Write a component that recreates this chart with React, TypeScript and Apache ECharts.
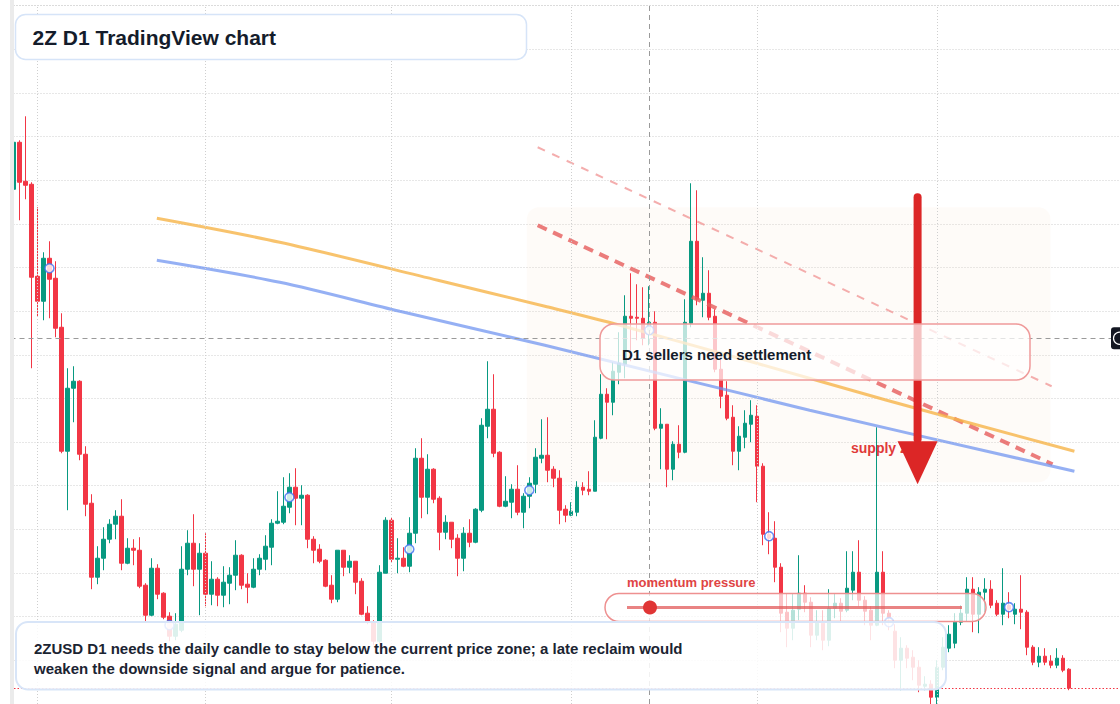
import React, { useEffect, useRef } from 'react';
import * as echarts from 'echarts';

// ---------- data ----------
const SLOT_COUNT = 185; // daily slots shown on the time axis (incl. empty right margin)
const dates: string[] = Array.from({ length: SLOT_COUNT }, (_, k) =>
  new Date(Date.UTC(2026, 0, 28 + k)).toISOString().slice(0, 10)
);

// daily candles: [open, close, low, high]
const candles: number[][] = [
  [0.1388, 0.1435, 0.1387, 0.1436], [0.1435, 0.1395, 0.1357, 0.1437], [0.1396, 0.1392, 0.1378, 0.1461],
  [0.1393, 0.1300, 0.1209, 0.1395], [0.1301, 0.1276, 0.1261, 0.1370], [0.1276, 0.1319, 0.1257, 0.1325],
  [0.1319, 0.1298, 0.1259, 0.1336], [0.1299, 0.1249, 0.1240, 0.1316], [0.1250, 0.1126, 0.1124, 0.1264],
  [0.1126, 0.1189, 0.1067, 0.1209], [0.1189, 0.1196, 0.1155, 0.1211], [0.1196, 0.1123, 0.1117, 0.1197],
  [0.1123, 0.1073, 0.1061, 0.1131], [0.1074, 0.1000, 0.0988, 0.1083], [0.1000, 0.1019, 0.0993, 0.1031],
  [0.1019, 0.1038, 0.1007, 0.1050], [0.1038, 0.1053, 0.1034, 0.1058], [0.1053, 0.1061, 0.1038, 0.1067],
  [0.1061, 0.1014, 0.1007, 0.1078], [0.1014, 0.1029, 0.1013, 0.1039], [0.1029, 0.1027, 0.1012, 0.1038],
  [0.1027, 0.0991, 0.0989, 0.1040], [0.0992, 0.0962, 0.0956, 0.0994], [0.0962, 0.1009, 0.0961, 0.1019],
  [0.1009, 0.0983, 0.0978, 0.1013], [0.0984, 0.0960, 0.0958, 0.0985], [0.0961, 0.0941, 0.0936, 0.0965],
  [0.0941, 0.0953, 0.0937, 0.0964], [0.0947, 0.1008, 0.0945, 0.1031], [0.1008, 0.1034, 0.1002, 0.1047],
  [0.1034, 0.1008, 0.0991, 0.1063], [0.1008, 0.1024, 0.0962, 0.1034], [0.1024, 0.0983, 0.0971, 0.1044],
  [0.0983, 0.0998, 0.0972, 0.1016], [0.0998, 0.0982, 0.0971, 0.1000], [0.0982, 0.0995, 0.0970, 0.1011],
  [0.0994, 0.1002, 0.0973, 0.1010], [0.1002, 0.1022, 0.0987, 0.1037], [0.1022, 0.0992, 0.0988, 0.1023],
  [0.0993, 0.0990, 0.0974, 0.1004], [0.0990, 0.1008, 0.0989, 0.1019], [0.1008, 0.1019, 0.1002, 0.1023],
  [0.1018, 0.1031, 0.1007, 0.1042], [0.1030, 0.1054, 0.1012, 0.1058], [0.1054, 0.1056, 0.1053, 0.1086],
  [0.1055, 0.1071, 0.1053, 0.1100], [0.1070, 0.1090, 0.1064, 0.1104], [0.1090, 0.1079, 0.1052, 0.1109],
  [0.1079, 0.1082, 0.1052, 0.1092], [0.1082, 0.1038, 0.1029, 0.1083], [0.1038, 0.1027, 0.1014, 0.1041],
  [0.1028, 0.1016, 0.1014, 0.1033], [0.1017, 0.0991, 0.0990, 0.1018], [0.0992, 0.0978, 0.0974, 0.1002],
  [0.0978, 0.1027, 0.0975, 0.1027], [0.1027, 0.1010, 0.1001, 0.1027], [0.1010, 0.1016, 0.1004, 0.1022],
  [0.1016, 0.0995, 0.0983, 0.1016], [0.0996, 0.0963, 0.0962, 0.0999], [0.0964, 0.0955, 0.0953, 0.0971],
  [0.0955, 0.0936, 0.0932, 0.0957], [0.0936, 0.1005, 0.0934, 0.1012], [0.1004, 0.1057, 0.1004, 0.1060],
  [0.1057, 0.1018, 0.1015, 0.1060], [0.1018, 0.1019, 0.1004, 0.1039], [0.1019, 0.1011, 0.1010, 0.1030],
  [0.1011, 0.1044, 0.1005, 0.1060], [0.1044, 0.1119, 0.1034, 0.1129], [0.1119, 0.1080, 0.1059, 0.1139],
  [0.1080, 0.1108, 0.1063, 0.1123], [0.1108, 0.1078, 0.1074, 0.1109], [0.1079, 0.1045, 0.1027, 0.1081],
  [0.1045, 0.1055, 0.1038, 0.1062], [0.1055, 0.1038, 0.1029, 0.1055], [0.1039, 0.1019, 0.1001, 0.1043],
  [0.1019, 0.1044, 0.1006, 0.1050], [0.1044, 0.1035, 0.1030, 0.1058], [0.1035, 0.1068, 0.1034, 0.1069],
  [0.1067, 0.1152, 0.1065, 0.1159], [0.1151, 0.1168, 0.1139, 0.1216], [0.1168, 0.1124, 0.1120, 0.1203],
  [0.1125, 0.1071, 0.1070, 0.1126], [0.1071, 0.1076, 0.1070, 0.1101], [0.1075, 0.1088, 0.1059, 0.1093],
  [0.1088, 0.1065, 0.1062, 0.1112], [0.1065, 0.1081, 0.1049, 0.1084], [0.1081, 0.1094, 0.1069, 0.1100],
  [0.1093, 0.1120, 0.1084, 0.1129], [0.1119, 0.1122, 0.1114, 0.1158], [0.1122, 0.1107, 0.1095, 0.1160],
  [0.1108, 0.1099, 0.1090, 0.1111], [0.1099, 0.1067, 0.1053, 0.1107], [0.1068, 0.1062, 0.1055, 0.1072],
  [0.1062, 0.1066, 0.1061, 0.1075], [0.1065, 0.1090, 0.1061, 0.1096], [0.1090, 0.1087, 0.1082, 0.1095],
  [0.1088, 0.1086, 0.1082, 0.1106], [0.1086, 0.1140, 0.1086, 0.1157], [0.1139, 0.1183, 0.1138, 0.1203],
  [0.1183, 0.1175, 0.1138, 0.1189], [0.1175, 0.1206, 0.1162, 0.1215], [0.1205, 0.1214, 0.1193, 0.1245],
  [0.1213, 0.1261, 0.1199, 0.1282], [0.1261, 0.1259, 0.1216, 0.1304], [0.1260, 0.1259, 0.1237, 0.1293],
  [0.1259, 0.1239, 0.1232, 0.1290], [0.1247, 0.1255, 0.1232, 0.1291], [0.1255, 0.1149, 0.1147, 0.1266],
  [0.1149, 0.1153, 0.1108, 0.1169], [0.1153, 0.1108, 0.1090, 0.1153], [0.1108, 0.1133, 0.1097, 0.1136],
  [0.1133, 0.1125, 0.1119, 0.1152], [0.1125, 0.1255, 0.1124, 0.1278], [0.1254, 0.1336, 0.1250, 0.1394],
  [0.1336, 0.1278, 0.1272, 0.1387], [0.1277, 0.1284, 0.1260, 0.1320], [0.1284, 0.1260, 0.1257, 0.1307],
  [0.1261, 0.1208, 0.1205, 0.1268], [0.1208, 0.1181, 0.1169, 0.1218], [0.1182, 0.1159, 0.1157, 0.1196],
  [0.1160, 0.1126, 0.1112, 0.1172], [0.1126, 0.1141, 0.1107, 0.1151], [0.1140, 0.1154, 0.1129, 0.1167],
  [0.1153, 0.1162, 0.1135, 0.1177], [0.1161, 0.1111, 0.1075, 0.1172], [0.1111, 0.1043, 0.1032, 0.1114],
  [0.1043, 0.1039, 0.1023, 0.1065], [0.1039, 0.1010, 0.0995, 0.1056], [0.1010, 0.0964, 0.0945, 0.1014],
  [0.0965, 0.0949, 0.0930, 0.0984], [0.0949, 0.0967, 0.0937, 0.0984], [0.0968, 0.0984, 0.0957, 0.1022],
  [0.0984, 0.0975, 0.0965, 0.0992], [0.0975, 0.0942, 0.0930, 0.0980], [0.0942, 0.0954, 0.0937, 0.0967],
  [0.0954, 0.0937, 0.0927, 0.0967], [0.0937, 0.0969, 0.0931, 0.0988], [0.0969, 0.0974, 0.0959, 0.0984],
  [0.0974, 0.0966, 0.0955, 0.0979], [0.0967, 0.0989, 0.0965, 0.1026], [0.0987, 0.1005, 0.0977, 0.1026],
  [0.1005, 0.0977, 0.0971, 0.1037], [0.0977, 0.0966, 0.0952, 0.0981], [0.0967, 0.0952, 0.0937, 0.0971],
  [0.0952, 0.1005, 0.0951, 0.1150], [0.1005, 0.0964, 0.0952, 0.1026], [0.0964, 0.0960, 0.0947, 0.0967],
  [0.0946, 0.0917, 0.0909, 0.0953], [0.0917, 0.0929, 0.0887, 0.0940], [0.0929, 0.0919, 0.0909, 0.0932],
  [0.0920, 0.0910, 0.0897, 0.0927], [0.0910, 0.0892, 0.0885, 0.0917], [0.0891, 0.0893, 0.0887, 0.0901],
  [0.0893, 0.0880, 0.0873, 0.0897], [0.0880, 0.0910, 0.0873, 0.0917], [0.0910, 0.0930, 0.0907, 0.0940],
  [0.0929, 0.0943, 0.0925, 0.0952], [0.0934, 0.0955, 0.0929, 0.0964], [0.0955, 0.0964, 0.0952, 0.0972],
  [0.0964, 0.0988, 0.0956, 0.1000], [0.0988, 0.0963, 0.0945, 0.1000], [0.0963, 0.0985, 0.0944, 0.0990],
  [0.0985, 0.0988, 0.0965, 0.0999], [0.0988, 0.0972, 0.0969, 0.0997], [0.0974, 0.0963, 0.0961, 0.0977],
  [0.0963, 0.0974, 0.0952, 0.1009], [0.0972, 0.0968, 0.0959, 0.0985], [0.0963, 0.0968, 0.0953, 0.0974],
  [0.0968, 0.0965, 0.0948, 0.1002], [0.0965, 0.0930, 0.0922, 0.0967], [0.0930, 0.0915, 0.0912, 0.0932],
  [0.0915, 0.0921, 0.0910, 0.0930], [0.0921, 0.0915, 0.0912, 0.0929], [0.0916, 0.0912, 0.0909, 0.0922],
  [0.0912, 0.0919, 0.0909, 0.0929], [0.0919, 0.0907, 0.0905, 0.0922], [0.0908, 0.0889, 0.0887, 0.0909],
];

// signal markers (candle index, price)
const markerIdx = [6, 26, 46, 66, 86, 106, 126, 146, 166];
const markerPrice = [0.1309, 0.0952, 0.1080, 0.1028, 0.1087, 0.1247, 0.1041, 0.0955, 0.0970];

// overlay lines: [candle index, price]
const orangeLine = [[23.9, 0.1359], [44.4, 0.1335], [70.75, 0.1297], [88.6, 0.1271], [99.9, 0.1254], [122.75, 0.1216], [145.6, 0.1177], [176.9, 0.1126]];
const blueLine = [[23.9, 0.1317], [44.4, 0.1295], [64.4, 0.1266], [88.6, 0.1232], [132.75, 0.1167], [176.9, 0.1106]];
const sellerLine = [[87.4, 0.1352], [173.25, 0.1113]];
const upperLine = [[87.4, 0.1430], [173.1, 0.1191]];

const monthStarts = [4, 32, 63, 93, 124, 154];
const crossIdx = 106;
const crossPrice = 0.1239;
const lastClose = 0.0889;

const supplyZone = { fromIdx: 85.6, toIdx: 172.9, top: 0.1370, bottom: 0.1095 };
const arrow = { idx: 150.75, top: 0.1384, headBase: 0.1136, tip: 0.1093 };

// y grid
const Y_INTERVAL = 0.004366;
const Y_MIN = 0.08732;
const Y_MAX = 0.15718;

const FONT = '"Liberation Sans", Arial, Helvetica, sans-serif';
const UP = '#089981';
const DOWN = '#f23645';

export default function App() {
  const ref = useRef<HTMLDivElement>(null);

  useEffect(() => {
    const el = ref.current;
    if (!el) return;
    const chart = echarts.init(el, undefined, { renderer: 'svg', width: 1120, height: 704 });

    const option: any = {
      animation: false,
      backgroundColor: '#ffffff',
      grid: { left: 10.5, top: 5.5, width: 1110, height: 698.6 },
      xAxis: [
        {
          type: 'category',
          data: dates,
          boundaryGap: true,
          axisLine: { show: false },
          axisTick: { show: false },
          axisLabel: { show: false },
          splitLine: { show: false },
        },
        {
          type: 'value',
          min: -0.5,
          max: SLOT_COUNT - 0.5,
          show: false,
          splitLine: { show: false },
        },
      ],
      yAxis: {
        type: 'value',
        min: Y_MIN,
        max: Y_MAX,
        interval: Y_INTERVAL,
        axisLine: { show: false },
        axisTick: { show: false },
        axisLabel: { show: false },
        splitLine: { show: true, lineStyle: { color: '#cfcfcf', width: 1, type: [1, 2] } },
      },
      series: [
        {
          type: 'line',
          name: 'grid',
          xAxisIndex: 1,
          data: [],
          z: 1,
          silent: true,
          markLine: {
            silent: true,
            precision: 4,
            symbol: ['none', 'none'],
            label: { show: false },
            lineStyle: { color: '#cfcfcf', width: 1, type: [1, 2] },
            data: monthStarts.map((v) => ({ xAxis: v })),
          },
        },
        {
          type: 'candlestick',
          name: '2ZUSD',
          xAxisIndex: 0,
          data: candles,
          barWidth: 4,
          z: 2,
          itemStyle: {
            color: UP,
            color0: DOWN,
            borderColor: UP,
            borderColor0: DOWN,
            borderWidth: 1,
          },
          markLine: {
            silent: true,
            precision: 4,
            symbol: ['none', 'none'],
            label: { show: false },
            lineStyle: { color: DOWN, width: 1, type: [1.5, 2] },
            data: [{ yAxis: lastClose }],
          },
        },
        {
          type: 'line',
          name: 'crosshair',
          xAxisIndex: 1,
          data: [],
          z: 3,
          silent: true,
          markLine: {
            silent: true,
            precision: 4,
            symbol: ['none', 'none'],
            label: { show: false },
            lineStyle: { color: '#9a9a9a', width: 1, type: [5, 4] },
            data: [{ xAxis: crossIdx }, { yAxis: crossPrice }],
          },
        },
        {
          type: 'line',
          name: 'upper',
          xAxisIndex: 1,
          data: upperLine,
          symbol: 'none',
          z: 3,
          lineStyle: { color: 'rgba(240,140,140,0.7)', width: 2, type: [8, 8] },
        },
        {
          type: 'line',
          name: 'sellers',
          xAxisIndex: 1,
          data: sellerLine,
          symbol: 'none',
          z: 3,
          lineStyle: { color: 'rgba(230,95,95,0.82)', width: 4, type: [10, 7] },
        },
        {
          type: 'line',
          name: 'orange',
          xAxisIndex: 1,
          data: orangeLine,
          symbol: 'none',
          smooth: 0.3,
          z: 3,
          lineStyle: { color: 'rgba(246,180,72,0.8)', width: 3 },
        },
        {
          type: 'line',
          name: 'blue',
          xAxisIndex: 1,
          data: blueLine,
          symbol: 'none',
          smooth: 0.3,
          z: 3,
          lineStyle: { color: 'rgba(108,146,240,0.72)', width: 3 },
        },
        {
          type: 'scatter',
          name: 'signals',
          xAxisIndex: 1,
          data: markerIdx.map((v, k) => [v, markerPrice[k]]),
          symbol: 'circle',
          symbolSize: 9,
          z: 4,
          itemStyle: { color: '#ffffff', borderColor: '#3f6ff0', borderWidth: 1.6 },
        },
      ],
    };

    chart.setOption(option);

    const toPx = (i: number, p: number) =>
      chart.convertToPixel({ seriesName: 'orange' } as any, [i, p]) as unknown as number[];

    const z0 = toPx(supplyZone.fromIdx, supplyZone.top);
    const z1 = toPx(supplyZone.toIdx, supplyZone.bottom);
    const aTop = toPx(arrow.idx, arrow.top);
    const aBase = toPx(arrow.idx, arrow.headBase);
    const aTip = toPx(arrow.idx, arrow.tip);
    const cross = toPx(crossIdx, crossPrice);

    const txt = (x: number, y: number, text: string, size: number, fill: string, z: number) => ({
      type: 'text',
      x,
      y,
      z,
      silent: true,
      style: { text, fill, font: `bold ${size}px ${FONT}`, align: 'left', verticalAlign: 'middle' },
    });

    chart.setOption({
      graphic: [
        {
          type: 'rect',
          z: 1,
          silent: true,
          shape: { x: z0[0], y: z0[1], width: z1[0] - z0[0], height: z1[1] - z0[1], r: 12 },
          style: { fill: 'rgba(244,222,204,0.13)' },
        },
        txt(851, 448, 'supply zone', 14, '#e03a3a', 30),
        {
          type: 'rect',
          z: 40,
          silent: true,
          shape: { x: aTop[0] - 4, y: aTop[1], width: 8, height: aBase[1] - aTop[1] + 2, r: 4 },
          style: { fill: '#dc2626' },
        },
        {
          type: 'polygon',
          z: 40,
          silent: true,
          shape: { points: [[aBase[0] - 20, aBase[1]], [aBase[0] + 20, aBase[1]], [aTip[0], aTip[1]]] },
          style: { fill: '#dc2626' },
        },
        // D1 box
        {
          type: 'rect',
          z: 50,
          silent: true,
          shape: { x: 600, y: 324, width: 430, height: 56, r: 14 },
          style: { fill: 'rgba(255,255,255,0.72)', stroke: '#ef9a9a', lineWidth: 1.5 },
        },
        txt(622, 354, 'D1 sellers need settlement', 15, '#141c2b', 51),
        // momentum pill
        txt(627, 582.5, 'momentum pressure', 13, '#e04444', 51),
        {
          type: 'rect',
          z: 50,
          silent: true,
          shape: { x: 605, y: 593.5, width: 381, height: 28, r: 14 },
          style: { fill: 'rgba(255,255,255,0.7)', stroke: '#ee9090', lineWidth: 1.5 },
        },
        {
          type: 'line',
          z: 51,
          silent: true,
          shape: { x1: 627, y1: 607.5, x2: 962, y2: 607.5 },
          style: { stroke: 'rgba(226,90,90,0.75)', lineWidth: 3 },
        },
        {
          type: 'circle',
          z: 52,
          silent: true,
          shape: { cx: 650, cy: 607.5, r: 7 },
          style: { fill: '#e03535' },
        },
        // bottom note
        {
          type: 'rect',
          z: 50,
          silent: true,
          shape: { x: 16, y: 622, width: 930, height: 67.5, r: 12 },
          style: { fill: 'rgba(255,255,255,0.86)', stroke: '#d8e5f8', lineWidth: 2 },
        },
        txt(34, 648, '2ZUSD D1 needs the daily candle to stay below the current price zone; a late reclaim would', 15, '#1b2432', 51),
        txt(34, 668, 'weaken the downside signal and argue for patience.', 15, '#1b2432', 51),
        // title
        {
          type: 'rect',
          z: 50,
          silent: true,
          shape: { x: 15.5, y: 14.5, width: 511, height: 45, r: 10 },
          style: { fill: '#ffffff', stroke: '#d6e4f8', lineWidth: 1.5 },
        },
        txt(32.5, 37, '2Z D1 TradingView chart', 21, '#141c2b', 51),
        // left strip
        {
          type: 'rect',
          z: 60,
          silent: true,
          shape: { x: 10, y: 0, width: 4, height: 704 },
          style: { fill: '#ebebeb' },
        },
        // right crosshair price tag (cut off)
        {
          type: 'rect',
          z: 60,
          silent: true,
          shape: { x: 1111, y: cross[1] - 11, width: 20, height: 22, r: 3 },
          style: { fill: '#131722' },
        },
        {
          type: 'circle',
          z: 61,
          silent: true,
          shape: { cx: 1119.5, cy: cross[1], r: 6 },
          style: { fill: 'none', stroke: '#ffffff', lineWidth: 1.2 },
        },
      ],
    });

    return () => {
      chart.dispose();
    };
  }, []);

  return (
    <div
      ref={ref}
      style={{ position: 'absolute', left: 0, top: 0, width: 1120, height: 704, background: '#ffffff', overflow: 'hidden' }}
    />
  );
}
